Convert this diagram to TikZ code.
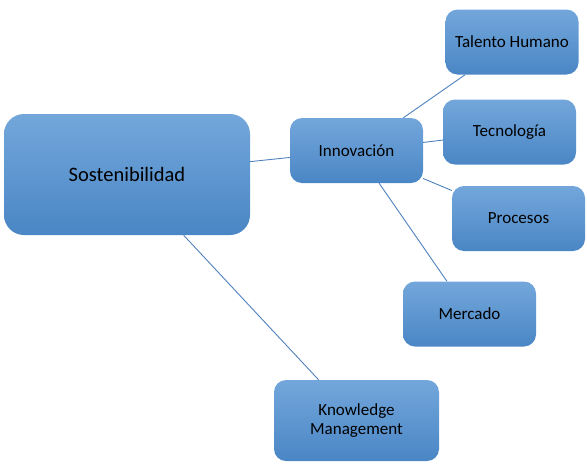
\documentclass[tikz,border=0pt]{standalone}
\usepackage{fontspec}
\setmainfont{Carlito}
\usetikzlibrary{backgrounds}
\definecolor{boxtop}{HTML}{73A7DB}
\definecolor{boxbottom}{HTML}{4A86C5}
\definecolor{linkblue}{HTML}{4F81BD}

\begin{document}
\begin{tikzpicture}[x=1pt,y=-1pt,
  topic/.style={rounded corners=12pt,top color=boxtop,bottom color=boxbottom,minimum width=133pt,minimum height=65pt,align=center,inner sep=0pt,font=\fontsize{17}{18.5}\selectfont},
  core/.style={topic,rounded corners=20pt,minimum width=246pt,minimum height=121pt,font=\fontsize{20.5}{24}\selectfont},
  link/.style={draw=linkblue,line width=0.9pt}
]
\useasboundingbox (0,0) rectangle (587,464);
\node[core] (sost) at (127,174.5) {Sostenibilidad};
\node[topic] (innov) at (356.5,150.5) {Innovación};
\node[topic] (talento) at (512,42) {Talento Humano};
\node[topic] (tecno) at (509.5,132) {Tecnología};
\node[topic] (procesos) at (518.5,218.5) {Procesos};
\node[topic] (mercado) at (469.5,314) {Mercado};
\node[topic,minimum width=165pt,minimum height=81pt] (km) at (356.5,420.5) {Knowledge\\Management};
\draw[link] (sost) -- (innov);
\draw[link] (innov) -- (talento);
\draw[link] (innov) -- (tecno);
\draw[link] (innov) -- (procesos);
\draw[link] (innov) -- (mercado);
\draw[link] (sost) -- (km);
\end{tikzpicture}
\end{document}
